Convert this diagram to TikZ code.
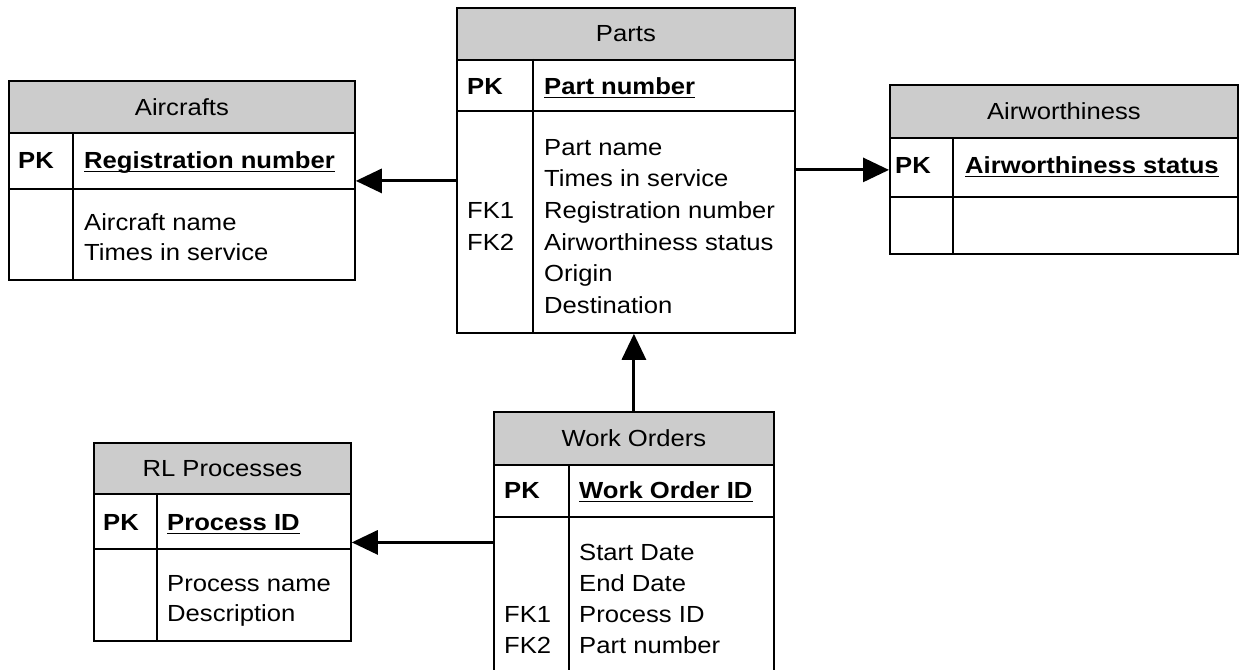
\documentclass[tikz,border=0pt]{standalone}
\usepackage{fontspec}
\setmainfont{Liberation Sans}[FakeStretch=1.1]
\usetikzlibrary{arrows.meta}
\definecolor{hdrgray}{gray}{0.8}

\begin{document}
\begin{tikzpicture}[x=1pt,y=-1pt,
  every node/.style={font=\fontsize{23.3}{31}\selectfont, inner sep=0pt},
  tbl/.style={draw, line width=1.8pt, anchor=north west},
  hdr/.style={tbl, fill=hdrgray},
  txt/.style={anchor=base west},
  keytxt/.style={anchor=base west, font=\fontsize{23.3}{31}\selectfont\bfseries},
  uline/.style={line width=1.8pt},
  fk/.style={line width=3pt, -{Triangle[length=26pt,width=24pt]}}]

\useasboundingbox (0,0) rectangle (1241,669);
\clip (0,0) rectangle (1241,669);

% Parts
\node[hdr, minimum width=338, minimum height=52] (parts) at (456,7) {Parts};
\node[tbl, minimum width=338, minimum height=51] (partspk) at (456,59) {};
\node[tbl, minimum width=338, minimum height=222] (partsbody) at (456,110) {};
\draw[line width=1.8pt] (533,59) -- (533,332);
\node[keytxt] (partspkl) at (467,94) {PK};
\node[keytxt] (partskey) at (544,94) {Part number};
\draw[uline] ([yshift=-3.5pt]partskey.base west) -- ([yshift=-3.5pt]partskey.base east);
\node[txt] (partsf1) at (544,155) {Part name};
\node[txt] (partsf2) at (544,186.7) {Times in service};
\node[txt] (partsf3) at (544,218.4) {Registration number};
\node[txt] (partsf4) at (544,250.1) {Airworthiness status};
\node[txt] (partsf5) at (544,281.8) {Origin};
\node[txt] (partsf6) at (544,313.5) {Destination};
\node[txt] (partsfk1) at (467,218.4) {FK1};
\node[txt] (partsfk2) at (467,250.1) {FK2};

% Aircrafts
\node[hdr, minimum width=346, minimum height=52] (aircraft) at (8,80) {Aircrafts};
\node[tbl, minimum width=346, minimum height=56] (aircraftpk) at (8,132) {};
\node[tbl, minimum width=346, minimum height=91] (aircraftbody) at (8,188) {};
\draw[line width=1.8pt] (73,132) -- (73,279);
\node[keytxt] (aircraftpkl) at (18,168) {PK};
\node[keytxt] (aircraftkey) at (84,168) {Registration number};
\draw[uline] ([yshift=-3.5pt]aircraftkey.base west) -- ([yshift=-3.5pt]aircraftkey.base east);
\node[txt] (aircraftf1) at (84,230) {Aircraft name};
\node[txt] (aircraftf2) at (84,260) {Times in service};

% Airworthiness
\node[hdr, minimum width=348, minimum height=53] (airw) at (889,84) {Airworthiness};
\node[tbl, minimum width=348, minimum height=59] (airwpk) at (889,137) {};
\node[tbl, minimum width=348, minimum height=57] (airwbody) at (889,196) {};
\draw[line width=1.8pt] (953,137) -- (953,253);
\node[keytxt] (airwpkl) at (895,173) {PK};
\node[keytxt] (airwkey) at (965,173) {Airworthiness status};
\draw[uline] ([yshift=-3.5pt]airwkey.base west) -- ([yshift=-3.5pt]airwkey.base east);

% RL Processes
\node[hdr, minimum width=257, minimum height=51] (rlproc) at (93,442) {RL Processes};
\node[tbl, minimum width=257, minimum height=55] (rlprocpk) at (93,493) {};
\node[tbl, minimum width=257, minimum height=92] (rlprocbody) at (93,548) {};
\draw[line width=1.8pt] (157,493) -- (157,640);
\node[keytxt] (rlprocpkl) at (103,530) {PK};
\node[keytxt] (rlprockey) at (167,530) {Process ID};
\draw[uline] ([yshift=-3.5pt]rlprockey.base west) -- ([yshift=-3.5pt]rlprockey.base east);
\node[txt] (rlprocf1) at (167,591) {Process name};
\node[txt] (rlprocf2) at (167,621) {Description};

% Work Orders
\node[hdr, minimum width=280, minimum height=53] (workord) at (493,411) {Work Orders};
\node[tbl, minimum width=280, minimum height=52] (workordpk) at (493,464) {};
\node[tbl, minimum width=280, minimum height=200] (workordbody) at (493,516) {};
\draw[line width=1.8pt] (569,464) -- (569,716);
\node[keytxt] (workordpkl) at (504,498) {PK};
\node[keytxt] (workordkey) at (579,498) {Work Order ID};
\draw[uline] ([yshift=-3.5pt]workordkey.base west) -- ([yshift=-3.5pt]workordkey.base east);
\node[txt] (workordf1) at (579,560) {Start Date};
\node[txt] (workordf2) at (579,591.1) {End Date};
\node[txt] (workordf3) at (579,622.2) {Process ID};
\node[txt] (workordf4) at (579,653.3) {Part number};
\node[txt] (workordfk1) at (504,622.2) {FK1};
\node[txt] (workordfk2) at (504,653.3) {FK2};

% relations
\coordinate (aircraftin) at ([yshift=-20pt]aircraftpk.east);
\coordinate (airwin) at ([yshift=-2.5pt]airwpk.west);
\coordinate (rlprocin) at ([yshift=-21pt]rlprocpk.east);
\draw[fk] (partsbody.west |- aircraftin) -- (aircraftin);
\draw[fk] (partsbody.east |- airwin) -- (airwin);
\draw[fk] (workord.north) -- (workord.north |- partsbody.south);
\draw[fk] (workordbody.west |- rlprocin) -- (rlprocin);

\end{tikzpicture}
\end{document}
